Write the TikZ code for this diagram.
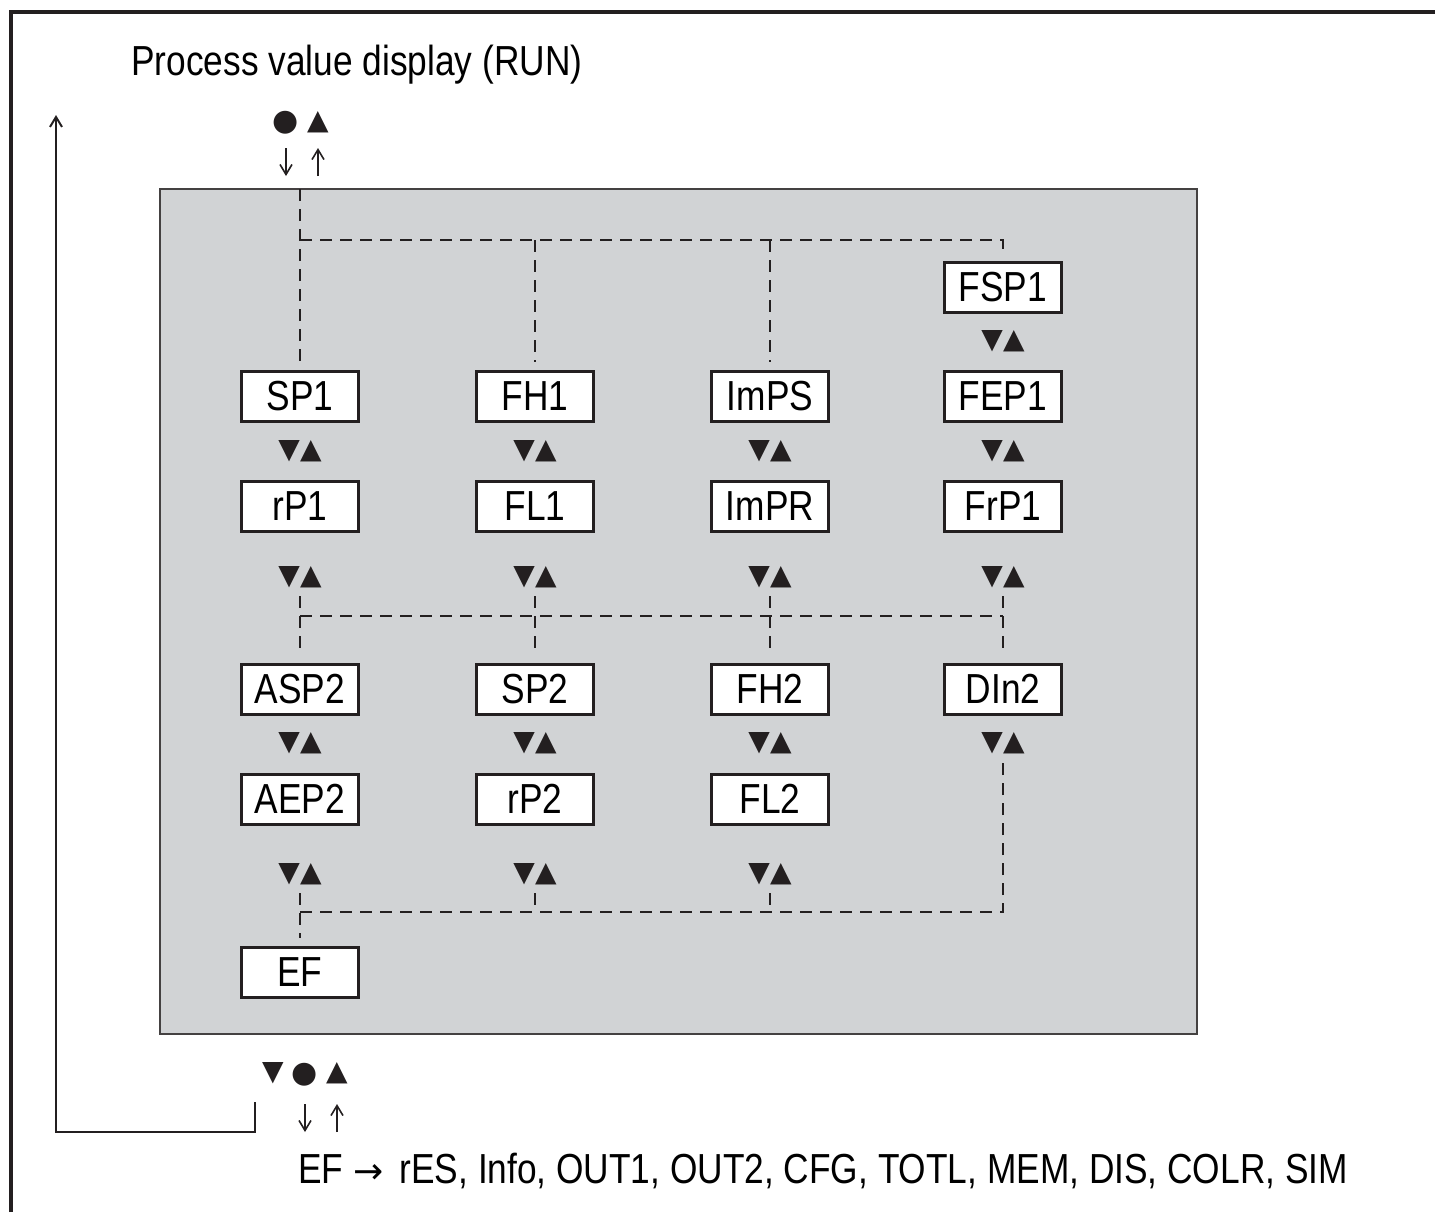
\documentclass[tikz,border=0pt]{standalone}
\usepackage{fontspec}
\setmainfont{Liberation Sans}[FakeStretch=0.84]
\newfontfamily\symfont{DejaVu Sans}
\usetikzlibrary{arrows.meta}
\definecolor{panelgray}{RGB}{209,211,213}
\definecolor{inkblack}{RGB}{35,31,32}

\begin{document}
\begin{tikzpicture}[%
      x=0.5pt, y=-0.5pt,
      >={Straight Barb[length=5pt,width=6pt]},
      menubox/.style={draw=inkblack, line width=1.5pt, fill=white,
        minimum width=58.5pt, minimum height=25pt, inner sep=0pt,
        font=\fontsize{21}{21}\selectfont},
      keys/.style={font=\symfont\fontsize{14}{14}\selectfont, inner sep=0pt, text=inkblack},
      link/.style={dash pattern=on 6pt off 4pt, line width=0.9pt, color=inkblack,
        shorten <=4pt, shorten >=4pt},
      tick/.style={->, line width=0.8pt, color=inkblack},
      ]
      \useasboundingbox (0,0) rectangle (1435,1212);

      % frame and return loop
      \draw [line width=2pt, color=inkblack] (11,1212) -- (11,12) -- (1435,12);
      \coordinate (loopstart) at (255,1102);
      \draw [tick, line width=1pt] (loopstart) -- (255,1132) -- (56,1132) -- (56,115);

      \node [anchor=base west, font=\fontsize{21}{21}\selectfont, inner sep=0pt] (title) at (131,75) {Process value display (RUN)};

      % entry keys
      \node [keys, font=\symfont\fontsize{15}{15}\selectfont] (set1) at (286,123) {●};
      \node [keys] (up1) at (318,122) {▲};
      \coordinate (in1) at (286,148);
      \coordinate (out1) at (318,176);
      \draw [tick] (in1) -- ++(0,28);
      \draw [tick] (out1) -- ++(0,-28);

      % parameter panel
      \draw [color=inkblack!85, line width=1pt, fill=panelgray] (160,189) rectangle (1197,1034);

      \node [menubox] (sp1) at (300,396) {SP1};
      \node [menubox] (rp1) at (300,506) {rP1};
      \node [menubox] (asp2) at (300,689) {ASP2};
      \node [menubox] (aep2) at (300,799) {AEP2};
      \node [menubox] (ef) at (300,972) {EF};

      \node [menubox] (fh1) at (535,396) {FH1};
      \node [menubox] (fl1) at (535,506) {FL1};
      \node [menubox] (sp2) at (535,689) {SP2};
      \node [menubox] (rp2) at (535,799) {rP2};

      \node [menubox] (imps) at (770,396) {ImPS};
      \node [menubox] (impr) at (770,506) {ImPR};
      \node [menubox] (fh2) at (770,689) {FH2};
      \node [menubox] (fl2) at (770,799) {FL2};

      \node [menubox] (fsp1) at (1003,287) {FSP1};
      \node [menubox] (fep1) at (1003,396) {FEP1};
      \node [menubox] (frp1) at (1003,506) {FrP1};
      \node [menubox] (din2) at (1003,689) {DIn2};

      \node [keys] (k1a) at (300,451) {▼▲};
      \node [keys] (k1b) at (300,577) {▼▲};
      \node [keys] (k1c) at (300,743) {▼▲};
      \node [keys] (k1d) at (300,874) {▼▲};
      \node [keys] (k2a) at (535,451) {▼▲};
      \node [keys] (k2b) at (535,577) {▼▲};
      \node [keys] (k2c) at (535,743) {▼▲};
      \node [keys] (k2d) at (535,874) {▼▲};
      \node [keys] (k3a) at (770,451) {▼▲};
      \node [keys] (k3b) at (770,577) {▼▲};
      \node [keys] (k3c) at (770,743) {▼▲};
      \node [keys] (k3d) at (770,874) {▼▲};
      \node [keys] (k4z) at (1003,341) {▼▲};
      \node [keys] (k4a) at (1003,451) {▼▲};
      \node [keys] (k4b) at (1003,577) {▼▲};
      \node [keys] (k4c) at (1003,743) {▼▲};

      % dashed jumps, top row
      \coordinate (entry) at (300,189);
      \coordinate (toprow) at (300,240);
      \draw [link, shorten <=0pt] (entry) -- (sp1.north);
      \draw [link, shorten <=0pt] (toprow) -| (fsp1.north);
      \draw [link, shorten <=0pt] (fh1.north |- toprow) -- (fh1.north);
      \draw [link, shorten <=0pt] (imps.north |- toprow) -- (imps.north);

      % dashed jumps, middle row
      \coordinate (midrow) at (300,616);
      \draw [link] (k1b.south) -- (asp2.north);
      \draw [link] (k2b.south) -- (sp2.north);
      \draw [link] (k3b.south) -- (fh2.north);
      \draw [link] (k4b.south) -- (din2.north);
      \draw [link, shorten <=0pt, shorten >=0pt] (midrow) -- (midrow -| k4b.south);

      % dashed jumps, bottom row
      \coordinate (botrow) at (300,912);
      \draw [link] (k1d.south) -- (ef.north);
      \draw [link, shorten >=0pt] (k2d.south) -- (k2d.south |- botrow);
      \draw [link, shorten >=0pt] (k3d.south) -- (k3d.south |- botrow);
      \draw [link, shorten <=0pt] (botrow) -| (k4c.south);

      % exit keys
      \node [keys] (down2) at (273,1073) {▼};
      \node [keys, font=\symfont\fontsize{15}{15}\selectfont] (set2) at (305,1075) {●};
      \node [keys] (up2) at (337,1073) {▲};
      \coordinate (in2) at (305,1104);
      \coordinate (out2) at (337,1132);
      \draw [tick] (in2) -- ++(0,28);
      \draw [tick] (out2) -- ++(0,-28);

      \node [anchor=base west, font=\fontsize{21}{21}\selectfont, inner sep=0pt] (exits) at (298,1183) {EF\hspace{5pt}{\symfont\fontsize{18}{18}\selectfont →}\hspace{8pt}rES, Info, OUT1, OUT2, CFG, TOTL, MEM, DIS, COLR, SIM};
\end{tikzpicture}
\end{document}
